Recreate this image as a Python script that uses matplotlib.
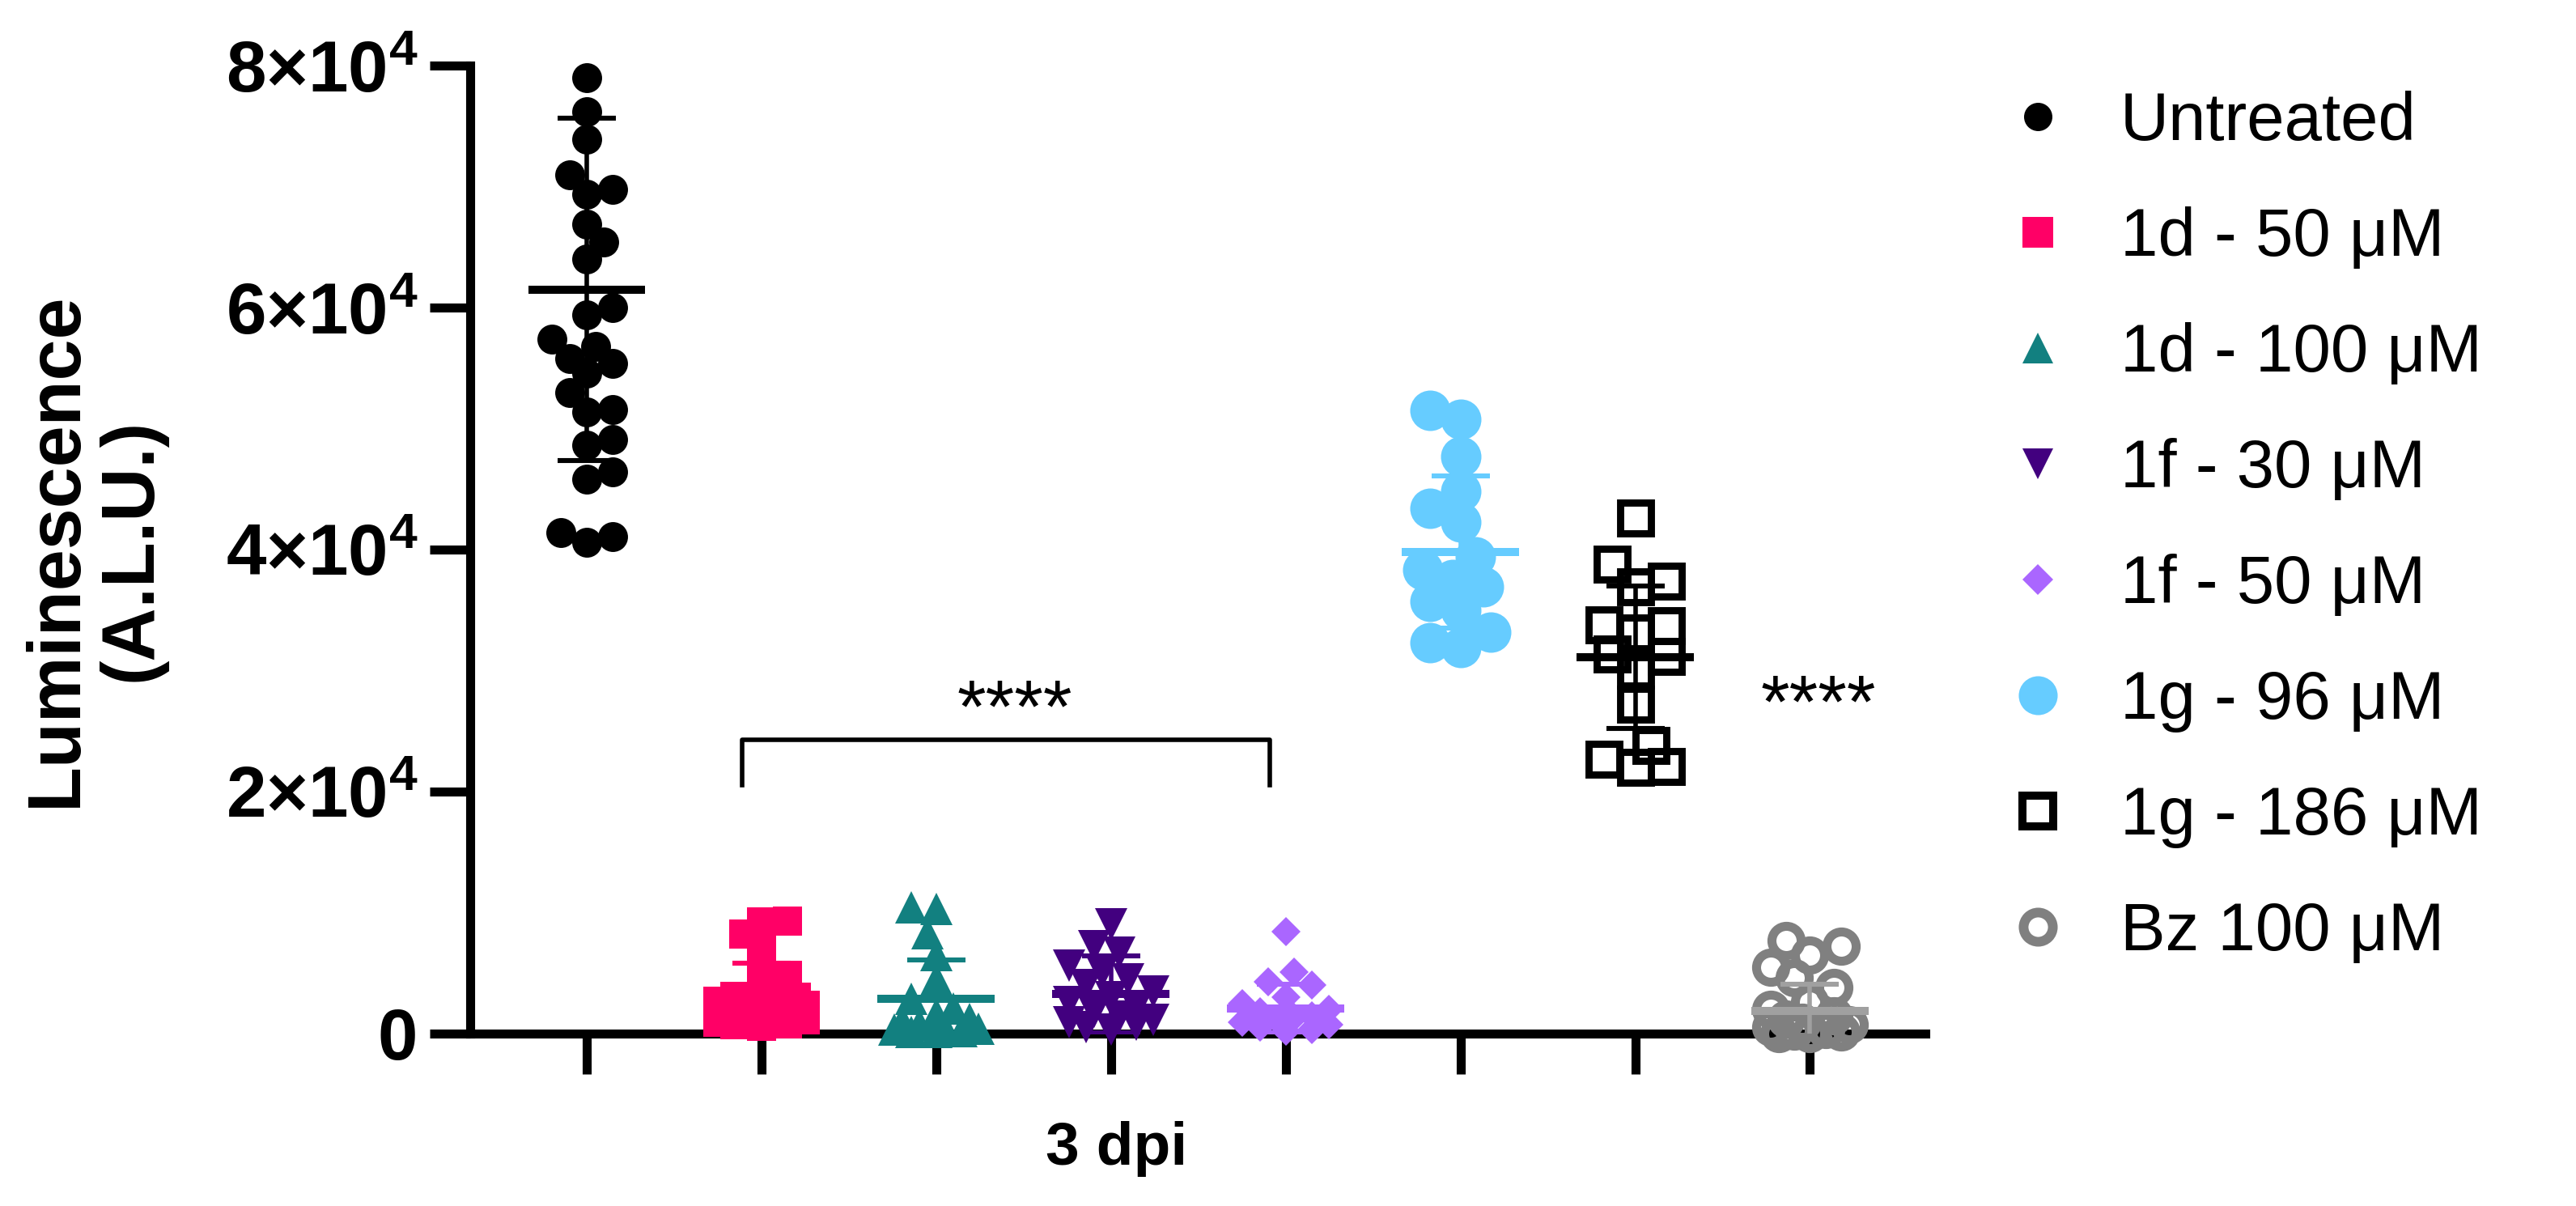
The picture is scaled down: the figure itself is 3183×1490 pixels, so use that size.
import numpy as np
import matplotlib.pyplot as plt
from matplotlib.lines import Line2D

plt.rcParams['font.family'] = ['Liberation Sans', 'DejaVu Sans']
plt.rcParams['mathtext.fontset'] = 'custom'
plt.rcParams['mathtext.rm'] = 'Liberation Sans:bold'
plt.rcParams['mathtext.it'] = 'Liberation Sans:bold'
plt.rcParams['mathtext.bf'] = 'Liberation Sans:bold'

# data (3 dpi)
labels = ['Untreated', '1d - 50 μM', '1d - 100 μM', '1f - 30 μM',
          '1f - 50 μM', '1g - 96 μM', '1g - 186 μM', 'Bz 100 μM']

untreated = [79000, 76200, 73900, 71000, 69800, 69400, 66900, 65400, 64000,
             60000, 59400, 57400, 56800, 55800, 55400, 54600, 53000, 51600,
             51400, 49100, 48600, 46400, 45800, 41400, 41100, 40600]
d50 = [9300, 9200, 8200, 7200, 4800, 4600, 3100, 3000, 2900, 2700, 2500,
       2300, 2100, 1900, 1700, 1500, 1300, 1100, 900, 800, 700, 600]
d100 = [10400, 10300, 8300, 6500, 4500, 2900, 2100, 1600, 1200, 1000, 700,
        500, 400, 300, 200, 100, 100]
f30 = [9000, 7200, 6700, 5600, 5100, 4500, 4000, 3500, 3000, 2600, 2200,
       1800, 1400, 1100, 900, 700, 500, 300]
f50 = [8400, 5100, 4300, 4000, 3000, 2500, 2000, 1800, 1500, 1300, 1100,
       900, 700, 500, 300, 200]
g96 = [51500, 50800, 47700, 44800, 43400, 42300, 39400, 38300, 37500, 36900,
       35700, 35000, 33200, 32300, 31900]
g186 = [42600, 38800, 37400, 36900, 33800, 33700, 33100, 31400, 31200, 30000,
        27200, 23800, 22700, 22100, 22000]
bz100 = [7700, 7200, 6500, 5500, 4600, 3800, 2600, 2000, 1500, 1200, 900,
         700, 500, 300, 200, 100, 0, 0]

means = [61500, 3200, 2900, 3250, 2050, 39800, 31100, 1900]
sds = [14150, 2600, 3200, 3200, 2000, 6300, 5900, 2200]

yticks = [0, 20000, 40000, 60000, 80000]
ytick_labels = ['0', '2×10$^{4}$', '4×10$^{4}$', '6×10$^{4}$', '8×10$^{4}$']

groups = [untreated, d50, d100, f30, f50, g96, g186, bz100]

# marker styles (size in pt, at dpi 200)
markers = ['o', 's', '^', 'v', 'D', 'o', 's', 'o']
colors = ['black', '#FF0066', '#128080', '#42007F', '#AA66FF', '#66CCFF', 'black', '#808080']
bar_colors = ['black', '#FF0066', '#128080', '#42007F', '#AA66FF', '#66CCFF', 'black', '#A0A0A0']
sizes = [13.3, 13, 14.4, 14.4, 9.4, 18, 14, 13]
hollow = [False, False, False, False, False, False, True, True]
edge_w = [0, 0, 0, 0, 0, 0, 3.2, 4.0]
diam_px = [37, 36, 40, 40, 37, 50, 48, 47]


def swarm(ypx, diam, half):
    # greedy beeswarm, x offsets in pixels
    order = np.argsort(ypx)
    cands = np.linspace(-half, half, 11)
    cands = cands[np.argsort(np.abs(cands), kind='stable')]
    placed = []
    offs = np.zeros(len(ypx))
    for i in order:
        y = ypx[i]
        best, bestd = 0.0, -1.0
        for c in cands:
            d = min([np.hypot(c - px, y - py) for px, py in placed], default=1e9)
            if d >= diam * 0.72:
                best = c
                break
            if d > bestd:
                best, bestd = c, d
        offs[i] = best
        placed.append((best, y))
    return offs


fig = plt.figure(figsize=(15.915, 7.45), dpi=200)
ax = fig.add_axes([0.1825, 0.143, 0.5649, 0.8026])
ax.set_xlim(-0.667, 7.66)
ax.set_ylim(0, 80000)

p0 = ax.transData.transform((0, 0))
p1 = ax.transData.transform((1, 10000))
sx = p1[0] - p0[0]
sy = (p1[1] - p0[1]) / 10000

for i, vals in enumerate(groups):
    vals = np.array(vals, dtype=float)
    offs = swarm(vals * sy, diam_px[i], 72 - diam_px[i] / 2)
    if hollow[i]:
        ax.plot(i + offs / sx, vals, ls='none', marker=markers[i], ms=sizes[i],
                mfc='none', mec=colors[i], mew=edge_w[i], clip_on=False, zorder=3)
    else:
        ax.plot(i + offs / sx, vals, ls='none', marker=markers[i], ms=sizes[i],
                mfc=colors[i], mec='none', mew=0, clip_on=False, zorder=3)
    ax.errorbar(i, means[i], yerr=sds[i], fmt='none', ecolor=bar_colors[i],
                elinewidth=2, capsize=13, capthick=2.2, zorder=4)
    ax.plot([i - 0.335, i + 0.335], [means[i], means[i]], color=bar_colors[i],
            lw=3.6, solid_capstyle='butt', zorder=4)

# significance
ax.plot([0.89, 0.89, 3.91, 3.91], [20500, 24300, 24300, 20500], color='black',
        lw=2, clip_on=False, zorder=2)
ax.text(2.45, 24900, '****', ha='center', va='baseline', fontsize=33)
ax.text(7.05, 25350, '****', ha='center', va='baseline', fontsize=33)

for s in ['top', 'right']:
    ax.spines[s].set_visible(False)
for s in ['left', 'bottom']:
    ax.spines[s].set_linewidth(4)
ax.set_xticks(range(8))
ax.set_xticklabels([])
ax.set_yticks(yticks)
ax.set_yticklabels(ytick_labels, fontsize=32, fontweight='bold')
ax.tick_params(width=4, length=18, pad=5.4, direction='out')

ax.set_xlabel('3 dpi', fontsize=27, fontweight='bold')
ax.xaxis.set_label_coords(0.444, -0.09)
ax.set_ylabel('Luminescence\n(A.L.U.)', fontsize=33, fontweight='bold', linespacing=1.1)
ax.yaxis.set_label_coords(-0.209, 0.5)

# legend
leg_sizes = [12.6, 13.7, 13.7, 13.7, 9.7, 17.3, 13.7, 13]
leg_ew = [0, 0, 0, 0, 0, 0, 3.6, 4.3]
handles = []
for i in range(8):
    if hollow[i]:
        h = Line2D([], [], ls='none', marker=markers[i], ms=leg_sizes[i],
                   mfc='none', mec=colors[i], mew=leg_ew[i])
    else:
        h = Line2D([], [], ls='none', marker=markers[i], ms=leg_sizes[i],
                   mfc=colors[i], mec='none', mew=0)
    handles.append(h)
fig.legend(handles, labels, loc='upper left', bbox_to_anchor=(0.778, 0.925),
           frameon=False, fontsize=30, handlelength=1.0, handletextpad=0.72,
           labelspacing=0.78, borderpad=0, borderaxespad=0)

fig.savefig('out.png', dpi=200)
